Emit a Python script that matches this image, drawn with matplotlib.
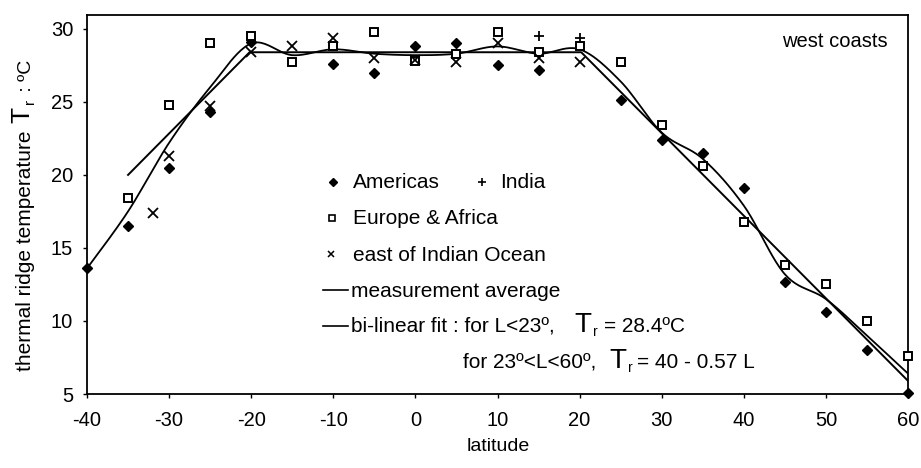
import matplotlib

matplotlib.use("Agg")
import matplotlib.pyplot as plt
import numpy as np

plt.rcParams.update({
    "font.family": ["Liberation Sans", "DejaVu Sans"],
    "font.size": 14,
    "axes.unicode_minus": False,
})

# --- data (latitude in degrees, temperature in degC) ---
americas_lat = [-40, -35, -30, -25, -20, -10, -5, 0, 5, 10, 15, 25, 30, 35, 40, 45, 50, 55, 60]
americas_t = [13.6, 16.5, 20.5, 24.3, 29.1, 27.6, 27.0, 28.8, 29.0, 27.5, 27.2,
              25.1, 22.4, 21.5, 19.1, 12.7, 10.6, 8.0, 5.1]

india_lat = [15, 20]
india_t = [29.5, 29.4]

europe_lat = [-35, -30, -25, -20, -15, -10, -5, 0, 5, 10, 15, 20, 25, 30, 35, 40, 45, 50, 55, 60]
europe_t = [18.4, 24.8, 29.0, 29.5, 27.7, 28.8, 29.8, 27.8, 28.3, 29.8, 28.4, 28.8,
            27.7, 23.4, 20.6, 16.8, 13.8, 12.5, 10.0, 7.6]

eastio_lat = [-32, -30, -25, -20, -15, -10, -5, 0, 5, 10, 15, 20]
eastio_t = [17.4, 21.3, 24.7, 28.4, 28.8, 29.4, 28.0, 27.9, 27.7, 29.0, 28.0, 27.7]

avg_lat = [-40, -35, -30, -25, -20, -15, -10, -5, 0, 5, 10, 15, 20, 25, 30, 35, 40, 45, 50, 55, 60]
avg_t = [13.6, 17.5, 22.2, 26.0, 29.0, 28.2, 28.6, 28.3, 28.2, 28.3, 28.8, 28.3, 28.6,
         26.4, 22.9, 21.1, 17.9, 13.2, 11.5, 9.0, 6.4]

fit_lat = [-35, -20.2, 20.2, 60]
fit_t = [20.0, 28.4, 28.4, 5.9]

W, H = 921, 468


def fpx(x, y):
    """pixel position (from top-left) -> figure fraction"""
    return x / W, 1 - y / H


def catmull_rom(xs, ys, n=24):
    pts = np.column_stack([xs, ys]).astype(float)
    P = np.vstack([pts[0], pts, pts[-1]])
    t = np.linspace(0, 1, n, endpoint=False)[:, None]
    segs = []
    for i in range(1, len(P) - 2):
        p0, p1, p2, p3 = P[i - 1], P[i], P[i + 1], P[i + 2]
        segs.append(0.5 * (2 * p1 + (-p0 + p2) * t
                           + (2 * p0 - 5 * p1 + 4 * p2 - p3) * t ** 2
                           + (-p0 + 3 * p1 - 3 * p2 + p3) * t ** 3))
    segs.append(pts[-1:])
    out = np.vstack(segs)
    return out[:, 0], out[:, 1]


fig = plt.figure(figsize=(W / 100, H / 100), dpi=100)
ax = fig.add_axes([87 / W, 1 - 394 / H, (908 - 87) / W, (394 - 15) / H])

sx, sy = catmull_rom(avg_lat, avg_t)
ax.plot(sx, sy, color="black", lw=1.3, zorder=2)
ax.plot(fit_lat, fit_t, color="black", lw=1.4, zorder=2)

ax.plot(americas_lat, americas_t, ls="none", marker="D", ms=5.2, color="black", zorder=3, clip_on=False)
ax.plot(europe_lat, europe_t, ls="none", marker="s", ms=5.3, mfc="white", mec="black", mew=1.4,
        zorder=4, clip_on=False)
ax.plot(eastio_lat, eastio_t, ls="none", marker="x", ms=7, mec="black", mew=1.3, zorder=4)
ax.plot(india_lat, india_t, ls="none", marker="+", ms=7, mec="black", mew=1.3, zorder=4)

ax.set_xlim(-40, 60)
ax.set_ylim(5, 30.95)
ax.set_xticks(np.arange(-40, 61, 10))
ax.set_yticks(np.arange(5, 31, 5))
ax.tick_params(direction="out", length=3, width=1, labelsize=14.5, pad=9)
ax.tick_params(axis="y", pad=7)
for s in ax.spines.values():
    s.set_linewidth(1.3)

# "west coasts"
fig.text(*fpx(888, 47), "west coasts", ha="right", va="baseline", fontsize=14.5)

# x label
fig.text(*fpx(498, 451), "latitude", ha="center", va="baseline", fontsize=14)

# y label in pieces (big T with subscript r)
ykw = dict(rotation=90, rotation_mode="anchor", ha="left", va="baseline")
fig.text(*fpx(31, 371), "thermal ridge temperature", fontsize=15, **ykw)
fig.text(*fpx(29, 123), "T", fontsize=19, **ykw)
fig.text(*fpx(34, 104), "r", fontsize=11, **ykw)
fig.text(*fpx(31, 97), " : ºC", fontsize=14, **ykw)

# hand-made legend
ft = fig.transFigure
ax.plot(*fpx(333, 182), marker="D", ms=4.5, color="black", transform=ft, clip_on=False)
fig.text(*fpx(353, 188), "Americas", va="baseline", fontsize=15)
ax.plot(*fpx(482, 182), marker="+", ms=5.5, mec="black", mew=1.2, transform=ft, clip_on=False)
fig.text(*fpx(500, 188), "India", va="baseline", fontsize=15)
ax.plot(*fpx(332, 218), marker="s", ms=4.2, mfc="white", mec="black", mew=1.2, transform=ft,
        clip_on=False)
fig.text(*fpx(353, 224), "Europe & Africa", va="baseline", fontsize=15)
ax.plot(*fpx(331, 254), marker="x", ms=5, mec="black", mew=1.1, transform=ft, clip_on=False)
fig.text(*fpx(353, 261), "east of Indian Ocean", va="baseline", fontsize=15)
for yy in (290, 326):
    x0, y0 = fpx(323, yy)
    x1, _ = fpx(348, yy)
    ax.plot([x0, x1], [y0, y0], color="black", lw=1.2, transform=ft, clip_on=False)
fig.text(*fpx(351, 297), "measurement average", va="baseline", fontsize=15)
fig.text(*fpx(351, 332), "bi-linear fit", va="baseline", fontsize=15)

# line 1: ": for L<23º, T_r = 28.4ºC"
fig.text(*fpx(453, 332), ": for L<23º,", va="baseline", fontsize=15)
fig.text(*fpx(574, 332), "T", va="baseline", fontsize=20)
fig.text(*fpx(593, 336), "r", va="baseline", fontsize=10)
fig.text(*fpx(604, 332), "= 28.4ºC", va="baseline", fontsize=15)
# line 2: "for 23º<L<60º, T_r= 40 - 0.57 L"
fig.text(*fpx(463, 368), "for 23º<L<60º,", va="baseline", fontsize=15)
fig.text(*fpx(609, 368), "T", va="baseline", fontsize=20)
fig.text(*fpx(628, 372), "r", va="baseline", fontsize=10)
fig.text(*fpx(637, 368), "= 40 - 0.57 L", va="baseline", fontsize=15)

fig.savefig("out.png", dpi=100)
